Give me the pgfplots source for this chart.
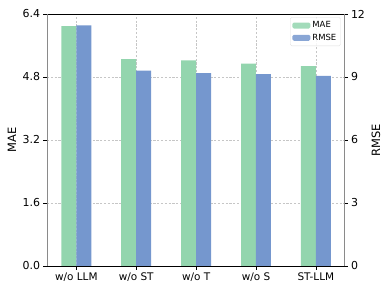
\documentclass[border=0pt]{standalone}
\usepackage{pgfplots}
\pgfplotsset{compat=1.18}
\usepackage{fontspec}
\setmainfont{DejaVu Sans}
\definecolor{maegreen}{HTML}{93D5AE}
\definecolor{rmseblue}{HTML}{7597CE}
\definecolor{spinegray}{HTML}{8A8A8A}
\begin{document}
\begin{tikzpicture}
\path[use as bounding box] (-47bp,-27bp) rectangle (343bp,266bp);
\pgfplotsset{
  common/.style={
    scale only axis, width=297bp, height=252bp,
    at={(0,0)}, anchor=south west,
    xmin=-0.49, xmax=4.47,
    ymin=0,
    tick align=outside, major tick length=3.5bp,
    /pgf/number format/assume math mode=true,
    xticklabel style={font=\fontsize{10.5}{12}\selectfont},
    yticklabel style={font=\fontsize{11}{13}\selectfont},
    separate axis lines,
    x axis line style={black, line width=0.8pt},
    y axis line style={spinegray, line width=0.8pt},
    every tick/.style={black, line width=0.6pt},
  },
}
\begin{axis}[common,
  ybar, bar width=0.25,
  ymax=6.4, ytick={0,1.6,3.2,4.8,6.4},
  yticklabel style={/pgf/number format/.cd, fixed, fixed zerofill, precision=1},
  xtick={0,1,2,3,4},
  xticklabels={w/o LLM, w/o ST, w/o T, w/o S, ST-LLM},
  xtick pos=bottom, ytick pos=left,
  xmajorgrids, ymajorgrids,
  grid style={gray!45, dash pattern=on 2.2bp off 1.6bp, line width=0.5pt},
  every axis y label/.style={at={(axis description cs:-0.118,0.5)}, anchor=center, rotate=90, font=\fontsize{11.5}{13}\selectfont},
  ylabel={MAE},
  legend style={at={(axis description cs:0.989,0.987)}, anchor=north east,
    draw=gray!25, rounded corners=1.5pt, fill=white, fill opacity=0.85, text opacity=1,
    font=\fontsize{8.5}{10}\selectfont, row sep=0.6bp, inner sep=2.2bp},
  legend cell align=left,
  legend image code/.code={\fill[#1] (0bp,-3bp) rectangle (18bp,3bp);},
]
\addplot[fill=maegreen, draw=none, bar shift=-0.125] coordinates {
  (0,6.095) (1,5.257) (2,5.223) (3,5.139) (4,5.079)};
\addlegendentry{MAE}
\addlegendimage{fill=rmseblue, draw=none}
\addlegendentry{RMSE}
\end{axis}
\begin{axis}[common,
  ybar, bar width=0.25,
  ymax=12, ytick={0,3,6,9,12},
  axis y line*=right, axis x line=none,
  every axis y label/.style={at={(axis description cs:1.108,0.5)}, anchor=center, rotate=90, font=\fontsize{11.5}{13}\selectfont},
  ylabel={RMSE},
]
\addplot[fill=rmseblue, draw=none, bar shift=0.125] coordinates {
  (0,11.46) (1,9.30) (2,9.19) (3,9.14) (4,9.05)};
\end{axis}
\end{tikzpicture}
\end{document}
